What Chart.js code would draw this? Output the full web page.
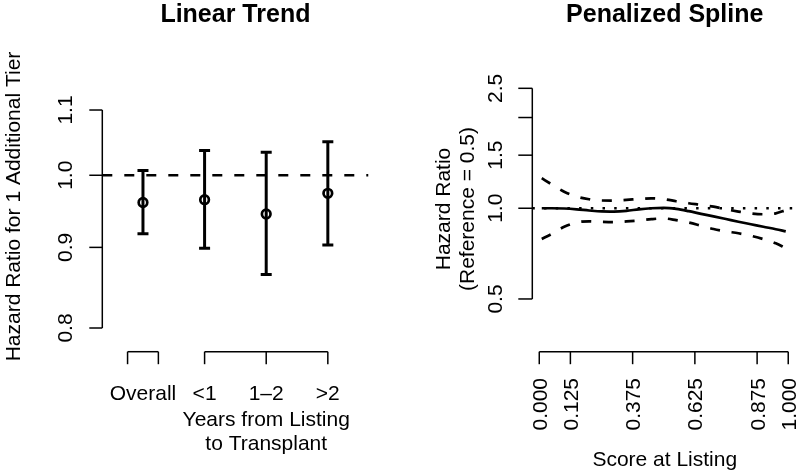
<!DOCTYPE html>
<html><head><meta charset="utf-8">
<script src="https://cdn.jsdelivr.net/npm/chart.js@4"></script>
<style>
html,body{margin:0;padding:0;background:#fff;}
#wrap{position:relative;width:800px;height:472px;overflow:hidden;}
canvas{position:absolute;top:0;}
#c1{left:0}#c2{left:400px}
</style></head><body>
<div id="wrap"><canvas id="c1" width="400" height="472"></canvas><canvas id="c2" width="400" height="472"></canvas></div>
<script>
// ---------- Left panel data ----------
const GROUP_LABELS = ['Overall', '<1', '1\u20132', '>2'];
const GROUP_POS = [1, 2, 3, 4];
const HR_EST = [0.961, 0.965, 0.945, 0.974];
const HR_LO = [0.918, 0.899, 0.865, 0.903];
const HR_HI = [1.007, 1.037, 1.034, 1.050];
const LEFT_Y_TICKS = [0.8, 0.9, 1.0, 1.1];
const LEFT_Y_LABELS = ['0.8', '0.9', '1.0', '1.1'];
const OVERALL_BRACKET = [0.75, 1.25];
const YEARS_BRACKET = [2, 3, 4];
const REF_LEFT = 1.0;

// ---------- Right panel data ----------
const SCORE = [0.01, 0.05, 0.10, 0.15, 0.20, 0.25, 0.30, 0.35, 0.40, 0.45, 0.50,
               0.55, 0.60, 0.65, 0.70, 0.75, 0.80, 0.85, 0.90, 0.95, 0.99];
const SPLINE_HR = [1.000, 1.000, 0.998, 0.992, 0.983, 0.976, 0.975, 0.980, 0.992, 1.000, 1.003,
                   0.995, 0.978, 0.958, 0.940, 0.921, 0.902, 0.885, 0.868, 0.852, 0.838];
const SPLINE_HI = [1.258, 1.200, 1.135, 1.093, 1.071, 1.061, 1.060, 1.066, 1.073, 1.079, 1.072,
                   1.055, 1.039, 1.026, 1.012, 0.992, 0.975, 0.961, 0.955, 0.962, 0.985];
const SPLINE_LO = [0.791, 0.822, 0.868, 0.897, 0.905, 0.901, 0.899, 0.904, 0.911, 0.920, 0.925,
                   0.913, 0.897, 0.875, 0.853, 0.838, 0.826, 0.810, 0.790, 0.765, 0.737];
const RIGHT_Y_TICKS = [0.5, 1.0, 1.5, 2.0, 2.5];
const RIGHT_Y_LABELS = ['0.5', '1.0', '1.5', '', '2.5'];
const RIGHT_X_TICKS = [0, 0.125, 0.375, 0.625, 0.875, 1];
const RIGHT_X_LABELS = ['0.000', '0.125', '0.375', '0.625', '0.875', '1.000'];
const REF_RIGHT = 1.0;

// axis limits
const X1_MIN = 0.34, X1_MAX = 4.66, Y1_MIN = 0.7899, Y1_MAX = 1.1141;
const X2_MIN = -0.028, X2_MAX = 1.036, Y2_MIN = 0.4688, Y2_MAX = 2.666;

const FONT = '"Liberation Sans", Arial, Helvetica, sans-serif';
const BASE = '21px ' + FONT;
const TITLE = 'bold 25px ' + FONT;
const INK = '#000';

function vText(ctx, txt, x, y, align) {
  ctx.save();
  ctx.translate(x, y);
  ctx.rotate(-Math.PI / 2);
  ctx.textAlign = align;
  ctx.textBaseline = 'alphabetic';
  ctx.fillText(txt, 0, 0);
  ctx.restore();
}
function hText(ctx, txt, x, y, align) {
  ctx.textAlign = align || 'center';
  ctx.textBaseline = 'alphabetic';
  ctx.fillText(txt, x, y);
}
function line(ctx, x1, y1, x2, y2) {
  ctx.beginPath(); ctx.moveTo(x1, y1); ctx.lineTo(x2, y2); ctx.stroke();
}

const leftAxes = {
  id: 'leftAxes',
  afterDraw(chart) {
    const ctx = chart.ctx, xs = chart.scales.x, ys = chart.scales.y;
    const ax = chart.chartArea.left;
    ctx.save();
    ctx.strokeStyle = INK; ctx.fillStyle = INK; ctx.lineWidth = 1.5; ctx.setLineDash([]);
    // y axis
    const yTop = ys.getPixelForValue(LEFT_Y_TICKS[LEFT_Y_TICKS.length - 1]);
    const yBot = ys.getPixelForValue(LEFT_Y_TICKS[0]);
    line(ctx, ax, yTop, ax, yBot);
    ctx.font = BASE;
    LEFT_Y_TICKS.forEach((v, i) => {
      const p = ys.getPixelForValue(v);
      line(ctx, ax - 13, p, ax, p);
      vText(ctx, LEFT_Y_LABELS[i], 72, p, 'center');
    });
    // bottom brackets
    const by = 351.7;
    [OVERALL_BRACKET, YEARS_BRACKET].forEach(br => {
      const p0 = xs.getPixelForValue(br[0]), p1 = xs.getPixelForValue(br[br.length - 1]);
      line(ctx, p0, by, p1, by);
      br.forEach(v => { const p = xs.getPixelForValue(v); line(ctx, p, by, p, by + 12.5); });
    });
    GROUP_POS.forEach((g, i) => hText(ctx, GROUP_LABELS[i], xs.getPixelForValue(g), 400));
    const mid = xs.getPixelForValue(3);
    hText(ctx, 'Years from Listing', mid, 426);
    hText(ctx, 'to Transplant', mid, 450);
    // y title
    vText(ctx, 'Hazard Ratio for 1 Additional Tier', 20, 206.5, 'center');
    // main title
    ctx.font = TITLE;
    hText(ctx, 'Linear Trend', (chart.chartArea.left + chart.chartArea.right) / 2, 21.7);
    ctx.restore();
  }
};

const rightAxes = {
  id: 'rightAxes',
  afterDraw(chart) {
    const ctx = chart.ctx, xs = chart.scales.x, ys = chart.scales.y;
    const ax = chart.chartArea.left;
    ctx.save();
    ctx.strokeStyle = INK; ctx.fillStyle = INK; ctx.lineWidth = 1.5; ctx.setLineDash([]);
    ctx.font = BASE;
    const yTop = ys.getPixelForValue(RIGHT_Y_TICKS[RIGHT_Y_TICKS.length - 1]);
    const yBot = ys.getPixelForValue(RIGHT_Y_TICKS[0]);
    line(ctx, ax, yTop, ax, yBot);
    RIGHT_Y_TICKS.forEach((v, i) => {
      const p = ys.getPixelForValue(v);
      line(ctx, ax - 14, p, ax, p);
      if (RIGHT_Y_LABELS[i]) vText(ctx, RIGHT_Y_LABELS[i], 101.7, p, 'center');
    });
    // x axis
    const by = 351.7;
    const x0 = xs.getPixelForValue(RIGHT_X_TICKS[0]);
    const x1 = xs.getPixelForValue(RIGHT_X_TICKS[RIGHT_X_TICKS.length - 1]);
    line(ctx, x0, by, x1, by);
    RIGHT_X_TICKS.forEach((v, i) => {
      const p = xs.getPixelForValue(v);
      line(ctx, p, by, p, by + 12.5);
      vText(ctx, RIGHT_X_LABELS[i], p + 7.5, 378, 'right');
    });
    hText(ctx, 'Score at Listing', (chart.chartArea.left + chart.chartArea.right) / 2, 466);
    vText(ctx, 'Hazard Ratio', 50, 209, 'center');
    vText(ctx, '(Reference = 0.5)', 73.5, 209, 'center');
    ctx.font = TITLE;
    hText(ctx, 'Penalized Spline', (chart.chartArea.left + chart.chartArea.right) / 2, 21.5);
    ctx.restore();
  }
};

// build error bar data
const barData = [];
GROUP_POS.forEach((g, i) => {
  barData.push({x: g, y: HR_LO[i]});
  barData.push({x: g, y: HR_HI[i]});
  barData.push({x: g, y: null});
});

const common = {
  responsive: false,
  animation: false,
  devicePixelRatio: 1,
  events: [],
  plugins: {legend: {display: false}, tooltip: {enabled: false}, title: {display: false}},
};

new Chart(document.getElementById('c1'), {
  type: 'line',
  data: {
    datasets: [
      {data: [{x: X1_MIN, y: REF_LEFT}, {x: X1_MAX, y: REF_LEFT}], borderColor: INK, borderWidth: 2.7,
       borderDash: [10, 12], pointRadius: 0},
      {data: barData, borderColor: INK, borderWidth: 3, spanGaps: false, pointStyle: 'line',
       pointRadius: 5.5, pointBorderWidth: 3, pointBorderColor: INK},
      {data: GROUP_POS.map((g, i) => ({x: g, y: HR_EST[i]})), showLine: false, pointStyle: 'circle',
       pointRadius: 4.3, pointBorderWidth: 2.7, pointBorderColor: INK, pointBackgroundColor: 'rgba(0,0,0,0)'}
    ]
  },
  options: Object.assign({}, common, {
    layout: {padding: {left: 102.3, right: 31.5, top: 101.3, bottom: 135.3}},
    scales: {
      x: {type: 'linear', min: X1_MIN, max: X1_MAX, bounds: 'data', display: false},
      y: {type: 'logarithmic', min: Y1_MIN, max: Y1_MAX, bounds: 'data', display: false}
    }
  }),
  plugins: [leftAxes]
});

const pts = arr => SCORE.map((s, i) => ({x: s, y: arr[i]}));
new Chart(document.getElementById('c2'), {
  type: 'line',
  data: {
    datasets: [
      {data: [{x: X2_MIN, y: REF_RIGHT}, {x: X2_MAX, y: REF_RIGHT}], borderColor: INK, borderWidth: 2.7,
       borderDash: [2.5, 9.2], pointRadius: 0},
      {data: pts(SPLINE_HI), borderColor: INK, borderWidth: 2.7, borderDash: [10, 11.7], pointRadius: 0,
       cubicInterpolationMode: 'monotone'},
      {data: pts(SPLINE_LO), borderColor: INK, borderWidth: 2.7, borderDash: [10, 11.7], pointRadius: 0,
       cubicInterpolationMode: 'monotone'},
      {data: pts(SPLINE_HR), borderColor: INK, borderWidth: 2.7, pointRadius: 0,
       cubicInterpolationMode: 'monotone'}
    ]
  },
  options: Object.assign({}, common, {
    layout: {padding: {left: 132.3, right: 2.8, top: 79.9, bottom: 164.6}},
    scales: {
      x: {type: 'linear', min: X2_MIN, max: X2_MAX, bounds: 'data', display: false},
      y: {type: 'logarithmic', min: Y2_MIN, max: Y2_MAX, bounds: 'data', display: false}
    }
  }),
  plugins: [rightAxes]
});
</script>
</body></html>
